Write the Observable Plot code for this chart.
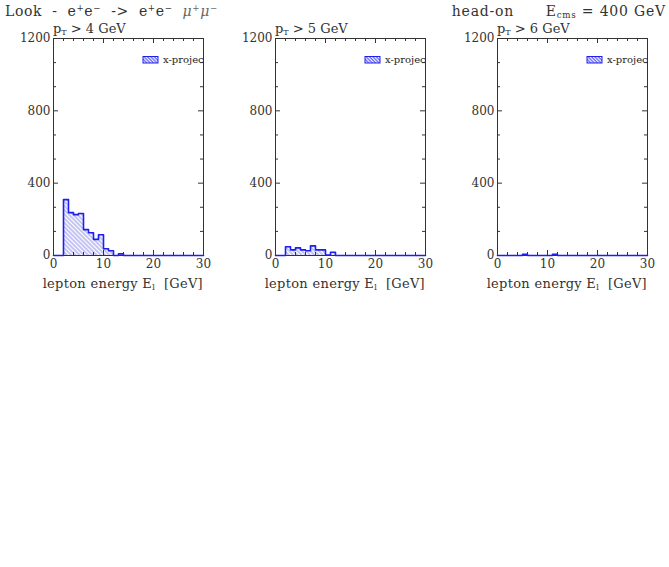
<!DOCTYPE html>
<html><head><meta charset="utf-8">
<script src="https://cdn.jsdelivr.net/npm/d3@7"></script>
<script src="https://cdn.jsdelivr.net/npm/@observablehq/plot@0.6"></script>
<style>
body{margin:0;background:#fff;}
#wrap{position:relative;width:669px;height:567px;font-family:"DejaVu Serif",serif;color:#333;overflow:hidden;}
.ov{position:absolute;white-space:pre;line-height:1;}
#wrap svg.pl{position:absolute;top:0;}
.ov sub,.ov sup{font-size:62%;line-height:0;}
.ov sup{vertical-align:0.55em;}
.ov sub{vertical-align:-0.25em;}
</style></head><body>
<svg width="0" height="0" style="position:absolute">
  <defs>
    <pattern id="hatch" patternUnits="userSpaceOnUse" width="6" height="3.0" patternTransform="rotate(45)">
      <line x1="0" y1="1" x2="6" y2="1" stroke="#7b7be8" stroke-width="0.9"/>
    </pattern>
    <pattern id="hatchL" patternUnits="userSpaceOnUse" width="4" height="2.4" patternTransform="rotate(45)">
      <rect width="4" height="2.4" fill="#ffffff"/>
      <line x1="0" y1="0.7" x2="4" y2="0.7" stroke="#4a4af0" stroke-width="1.1"/>
    </pattern>
  </defs>
</svg>
<div id="wrap"></div>
<script>
// ---- data ----
const panelCuts = ["4", "5", "6"];            // p_T cut per panel, GeV
const binEdges = [0,1,2,3,4,5,6,7,8,9,10,11,12,13,14,15,16,17,18,19,20,21,22,23,24,25,26,27,28,29,30];
const countsPt4 = [0,0,309,237,226,232,143,126,89,115,37,26,0,9,0,0,0,0,0,0,0,0,0,0,0,0,0,0,0,0];
const countsPt5 = [0,0,48,31,42,31,26,53,31,31,3,18,0,0,0,0,0,0,0,0,0,0,0,0,0,0,0,0,0,0];
const countsPt6 = [0,0,0,0,0,6,0,0,0,0,0,6,0,0,0,0,0,0,0,0,0,0,0,0,0,0,0,0,0,0];
const yMajor = [0, 400, 800, 1200];
const yMinor = [133.3, 266.7, 533.3, 666.7, 933.3, 1066.7];
const xMajor = [0, 10, 20, 30];
const xMinor = [2,4,6,8,12,14,16,18,22,24,26,28];
const legendLabel = "x-projection";
const titleLeft = 'Look  -  e<sup>+</sup>e<sup>−</sup>  ->  e<sup>+</sup>e<sup>−</sup>  <i style="color:#666">μ<sup>+</sup>μ<sup>−</sup></i>';
const titleRight = 'head-on      E<sub>cms</sub> = 400 GeV';
const xLabel = 'lepton energy E<sub>l</sub>  [GeV]';
const allCounts = [countsPt4, countsPt5, countsPt6];

const wrap = document.getElementById("wrap");
const W = 222, H = 300, ML = 53, MR = 19, MT = 38, MB = 45;
const blue = "#1e1ef0", ink = "#333";

function legendMark(id) {
  return (index, scales, values, dims) => {
    const {marginLeft: ml, marginTop: mt, marginRight: mr, marginBottom: mb, width, height} = dims;
    const g = d3.create("svg:g");
    g.append("clipPath").attr("id", id).append("rect")
      .attr("x", ml).attr("y", mt).attr("width", width - ml - mr).attr("height", height - mt - mb);
    g.append("rect").attr("x", ml + 90).attr("y", mt + 18.5).attr("width", 15).attr("height", 6.5)
      .attr("fill", "url(#hatchL)").attr("stroke", blue).attr("stroke-width", 1);
    g.append("text").attr("x", ml + 110).attr("y", mt + 25).attr("clip-path", `url(#${id})`)
      .attr("text-anchor", "start")
      .attr("font-size", 10).attr("fill", "#222").attr("font-family", "DejaVu Serif").text(legendLabel);
    return g.node();
  };
}

allCounts.forEach((counts, p) => {
  const bins = counts.map((v, i) => ({lo: binEdges[i], hi: binEdges[i + 1], v}));
  const outline = [{x: binEdges[0], y: 0}]
    .concat(bins.map(b => ({x: b.lo, y: b.v})))
    .concat([{x: binEdges[binEdges.length - 1], y: counts[counts.length - 1]}, {x: binEdges[binEdges.length - 1], y: 0}]);
  const iw = W - ML - MR, ih = H - MT - MB;
  const svg = Plot.plot({
    width: W, height: H, marginLeft: ML, marginRight: MR, marginTop: MT, marginBottom: MB,
    style: {fontFamily: "DejaVu Serif", fontSize: "12px", color: ink, background: "transparent", overflow: "visible"},
    x: {domain: [0, 30]},
    y: {domain: [0, 1200]},
    marks: [
      Plot.rectY(bins.filter(b => b.v > 0), {x1: "lo", x2: "hi", y: "v", fill: "url(#hatch)"}),
      Plot.frame({stroke: ink, strokeWidth: 1}),
      Plot.ruleX(xMajor, {x: d => d, insetTop: ih - 5, stroke: ink}),
      Plot.ruleX(xMajor, {x: d => d, insetBottom: ih - 5, stroke: ink}),
      Plot.ruleX(xMinor, {x: d => d, insetTop: ih - 3, stroke: ink}),
      Plot.ruleX(xMinor, {x: d => d, insetBottom: ih - 3, stroke: ink}),
      Plot.ruleY(yMajor, {y: d => d, insetRight: iw - 5, stroke: ink}),
      Plot.ruleY(yMajor, {y: d => d, insetLeft: iw - 5, stroke: ink}),
      Plot.ruleY(yMinor, {y: d => d, insetRight: iw - 3, stroke: ink}),
      Plot.ruleY(yMinor, {y: d => d, insetLeft: iw - 3, stroke: ink}),
      Plot.axisX({ticks: xMajor, tickSize: 0, tickPadding: 4, label: null, fontSize: 12, tickFormat: d => String(d)}),
      Plot.axisY({ticks: yMajor, tickSize: 0, tickPadding: 3, label: null, fontSize: 12, tickFormat: d => String(d)}),
      Plot.line(outline, {x: "x", y: "y", curve: "step-after", stroke: blue, strokeWidth: 1.6}),
      legendMark("lgclip" + p)
    ]
  });
  svg.classList.add("pl");
  svg.style.left = (p * W) + "px";
  wrap.appendChild(svg);

  const sub = document.createElement("div");
  sub.className = "ov";
  sub.style.cssText = `left:${p * W + ML}px;top:22px;font-size:13px;`;
  sub.innerHTML = `p<sub>T</sub> &gt; ${panelCuts[p]} GeV`;
  wrap.appendChild(sub);

  const xl = document.createElement("div");
  xl.className = "ov";
  xl.style.cssText = `right:${669 - (p * W + W - MR)}px;top:277px;font-size:13px;letter-spacing:0.3px;`;
  xl.innerHTML = xLabel;
  wrap.appendChild(xl);
});

const t1 = document.createElement("div");
t1.className = "ov";
t1.style.cssText = "left:5px;top:4px;font-size:14px;letter-spacing:0.6px;";
t1.innerHTML = titleLeft;
wrap.appendChild(t1);

const t2 = document.createElement("div");
t2.className = "ov";
t2.style.cssText = "right:3px;top:4px;font-size:14px;letter-spacing:0.8px;";
t2.innerHTML = titleRight;
wrap.appendChild(t2);
</script>
</body></html>
